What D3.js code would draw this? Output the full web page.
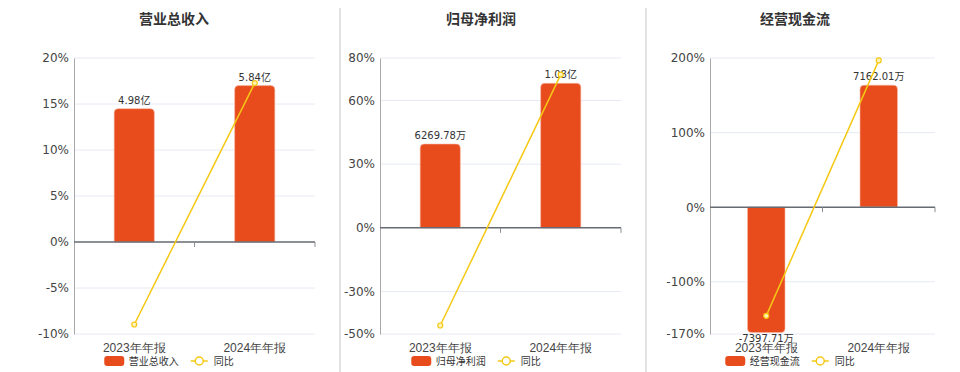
<!DOCTYPE html>
<html>
<head>
<meta charset="utf-8">
<script src="https://cdn.jsdelivr.net/npm/d3@7"></script>
<style>
  html, body { margin: 0; padding: 0; background: #fff; }
  svg { display: block; font-family: "DejaVu Sans", "Noto Sans CJK SC", sans-serif; }
</style>
</head>
<body>
<script>
// ---------- data ----------
const titles = ["营业总收入", "归母净利润", "经营现金流"];
const categories = ["2023年年报", "2024年年报"];

const revenue = [4.98, 5.84];                 // 亿
const revenueLabels = ["4.98亿", "5.84亿"];
const revenueYoY = [-8.97, 17.27];            // %
const revenueTicks = [-10, -5, 0, 5, 10, 15, 20];
const revenueBarAxis = [-3.43, 6.87];         // hidden bar axis (亿)

const profit = [6269.78, 10800];              // 万
const profitLabels = ["6269.78万", "1.08亿"];
const profitYoY = [-46.0, 72.2];
const profitTicks = [-50, -30, 0, 30, 60, 80];
const profitBarAxis = [-7912, 12690];         // hidden bar axis (万)

const cashflow = [-7397.71, 7162.01];         // 万
const cashflowLabels = ["-7397.71万", "7162.01万"];
const cashflowYoY = [-145.7, 196.8];
const cashflowTicks = [-170, -100, 0, 100, 200];
const cashflowBarAxis = [-7480, 8760];        // hidden bar axis (万)

const yoyName = "同比";

// ---------- layout ----------
const W = 960, H = 372;
const TOP = 58, BOTTOM = 334;
const BAR_COLOR = "#e84c1d";
const LINE_COLOR = "#f5c814";

const panels = [
  { title: titles[0], bars: revenue, labels: revenueLabels, yoy: revenueYoY, ticks: revenueTicks, barAxis: revenueBarAxis, left: 74, right: 315, cx: 174 },
  { title: titles[1], bars: profit, labels: profitLabels, yoy: profitYoY, ticks: profitTicks, barAxis: profitBarAxis, left: 380, right: 621, cx: 481 },
  { title: titles[2], bars: cashflow, labels: cashflowLabels, yoy: cashflowYoY, ticks: cashflowTicks, barAxis: cashflowBarAxis, left: 710, right: 935, cx: 795 }
];

const svg = d3.select("body").append("svg").attr("width", W).attr("height", H);

// separators
svg.selectAll("line.sep").data([340, 646]).join("line")
  .attr("class", "sep")
  .attr("x1", d => d).attr("x2", d => d)
  .attr("y1", 8).attr("y2", H)
  .attr("stroke", "#d9d9d9").attr("stroke-width", 1.5);

function barPath(x0, w, y0, y1, r) {
  if (y1 <= y0) {
    return `M${x0},${y0}V${y1 + r}Q${x0},${y1} ${x0 + r},${y1}H${x0 + w - r}Q${x0 + w},${y1} ${x0 + w},${y1 + r}V${y0}Z`;
  }
  return `M${x0},${y0}V${y1 - r}Q${x0},${y1} ${x0 + r},${y1}H${x0 + w - r}Q${x0 + w},${y1} ${x0 + w},${y1 - r}V${y0}Z`;
}

panels.forEach(p => {
  const g = svg.append("g");
  const y = d3.scaleLinear().domain(d3.extent(p.ticks)).range([BOTTOM, TOP]);
  const yb = d3.scaleLinear().domain(p.barAxis).range([BOTTOM, TOP]);
  const x = d3.scaleBand().domain(categories).range([p.left, p.right]).padding(0);
  const bw = x.bandwidth();
  const barW = bw / 3;

  // title
  g.append("text")
    .attr("x", p.cx).attr("y", 24)
    .attr("text-anchor", "middle")
    .attr("font-size", 14).attr("font-weight", "bold")
    .attr("fill", "#333")
    .text(p.title);

  // grid
  g.selectAll("line.grid").data(p.ticks.filter(t => t !== 0)).join("line")
    .attr("class", "grid")
    .attr("x1", p.left).attr("x2", p.right)
    .attr("y1", d => y(d)).attr("y2", d => y(d))
    .attr("stroke", "#e6eaf5").attr("stroke-width", 1);

  // y axis
  const ya = g.append("g").attr("transform", `translate(${p.left},0)`)
    .call(d3.axisLeft(y).tickValues(p.ticks).tickFormat(d => d + "%").tickSize(0).tickPadding(5));
  ya.select(".domain").attr("stroke", "#a9a9a9").attr("stroke-width", 1);
  ya.selectAll("text").attr("font-size", 12).attr("fill", "#444")
    .attr("font-family", "DejaVu Sans, sans-serif");

  // bars
  g.selectAll("path.bar").data(p.bars).join("path")
    .attr("class", "bar")
    .attr("d", (d, i) => barPath(x(categories[i]) + barW, barW, yb(0), yb(d), 4))
    .attr("fill", BAR_COLOR)
    .attr("stroke", "#f7b9a4").attr("stroke-width", 0.6);

  // zero axis line + ticks
  const y0 = y(0);
  g.append("line")
    .attr("x1", p.left).attr("x2", p.right)
    .attr("y1", y0).attr("y2", y0)
    .attr("stroke", "#666a73").attr("stroke-width", 1.5);
  g.selectAll("line.xt").data(categories).join("line")
    .attr("class", "xt")
    .attr("x1", d => x(d) + bw).attr("x2", d => x(d) + bw)
    .attr("y1", y0).attr("y2", y0 + 5)
    .attr("stroke", "#8a8e96").attr("stroke-width", 1);

  // value labels
  g.selectAll("text.val").data(p.bars).join("text")
    .attr("class", "val")
    .attr("x", (d, i) => x(categories[i]) + bw / 2)
    .attr("y", d => d >= 0 ? yb(d) - 5 : yb(d) + 9)
    .attr("text-anchor", "middle")
    .attr("font-size", 10).attr("fill", "#333")
    .text((d, i) => p.labels[i]);

  // x labels
  const xa = g.append("g").attr("transform", `translate(0,${BOTTOM})`)
    .call(d3.axisBottom(x).tickSize(0));
  xa.select(".domain").remove();
  xa.selectAll("text").attr("y", 18).attr("dy", 0)
    .attr("font-size", 12).attr("fill", "#444");

  // yoy line
  const line = d3.line().x((d, i) => x(categories[i]) + bw / 2).y(d => y(d));
  g.append("path").datum(p.yoy)
    .attr("d", line)
    .attr("fill", "none").attr("stroke", LINE_COLOR).attr("stroke-width", 1.5);
  g.selectAll("circle.pt").data(p.yoy).join("circle")
    .attr("class", "pt")
    .attr("cx", (d, i) => x(categories[i]) + bw / 2)
    .attr("cy", d => y(d))
    .attr("r", 2.5)
    .attr("fill", "#fff3b8").attr("stroke", LINE_COLOR).attr("stroke-width", 1.2);

  // legend
  const lg = g.append("g");
  const lr = lg.append("rect").attr("x", 0).attr("y", -5).attr("width", 20).attr("height", 10)
    .attr("rx", 3).attr("fill", BAR_COLOR);
  const t1 = lg.append("text").attr("x", 24.5).attr("y", 3.5)
    .attr("font-size", 10).attr("fill", "#333").text(p.title);
  const t1w = t1.node().getComputedTextLength();
  const ix = 24.5 + t1w + 12;
  lg.append("line").attr("x1", ix).attr("x2", ix + 17).attr("y1", 0).attr("y2", 0)
    .attr("stroke", LINE_COLOR).attr("stroke-width", 1.5);
  lg.append("circle").attr("cx", ix + 8.5).attr("cy", 0).attr("r", 4)
    .attr("fill", "#fff").attr("stroke", LINE_COLOR).attr("stroke-width", 1.5);
  const t2 = lg.append("text").attr("x", ix + 23).attr("y", 3.5)
    .attr("font-size", 10).attr("fill", "#333").text(yoyName);
  const total = ix + 23 + t2.node().getComputedTextLength();
  lg.attr("transform", `translate(${p.cx - 5 - total / 2},361)`);
});
</script>
</body>
</html>
